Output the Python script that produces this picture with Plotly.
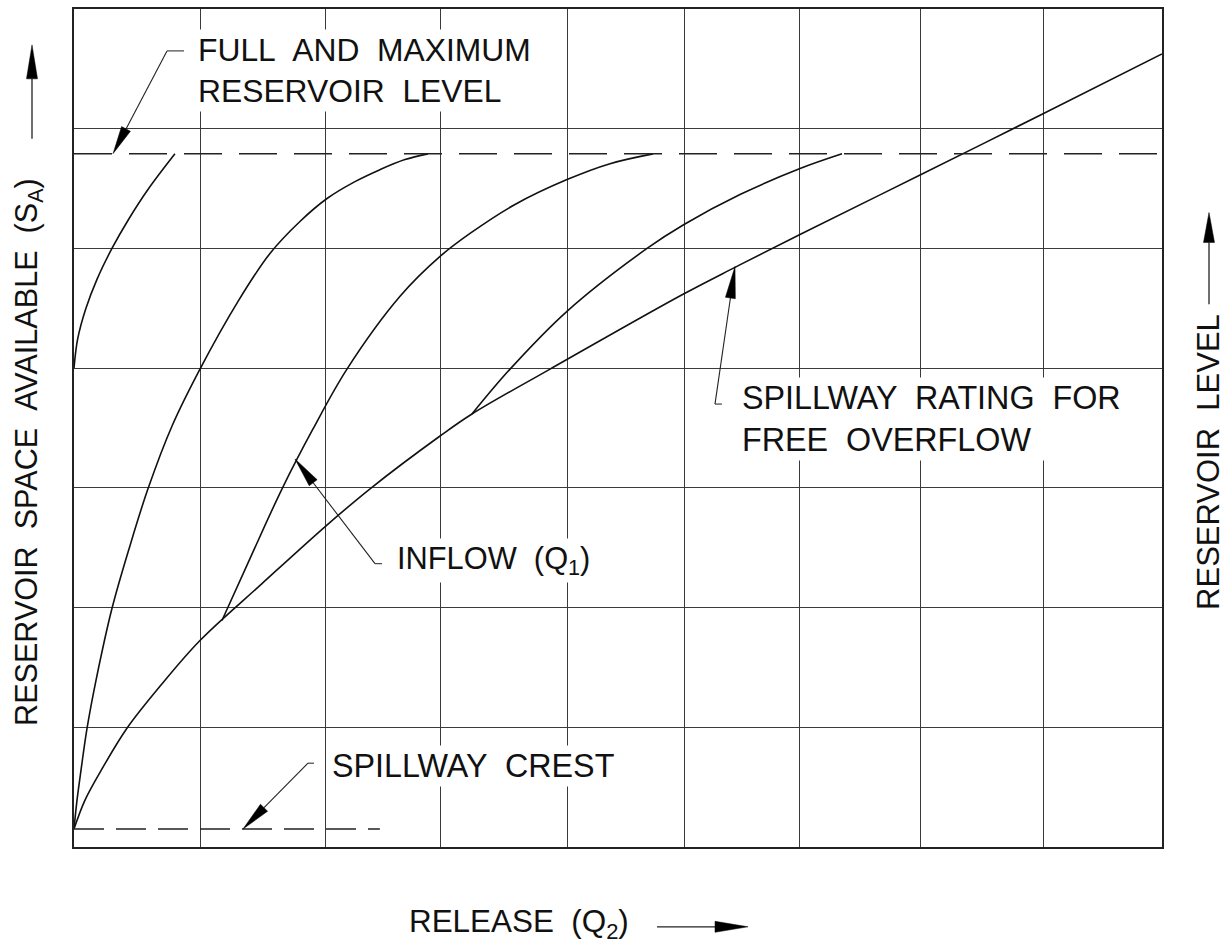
import math
import plotly.graph_objects as go

# ---------------- data ----------------
release_grid = [1.05, 2.08, 3.03, 4.08, 5.05, 6.0, 7.0, 8.02]
space_grid = [1, 2, 3, 4, 5, 6]

inflow1_x = [0.0, 0.030, 0.096, 0.190, 0.314, 0.451, 0.612, 0.835]
inflow1_y = [4.0, 4.242, 4.492, 4.742, 5.0, 5.242, 5.492, 5.79]

inflow2_x = [0.0, 0.025, 0.058, 0.108, 0.182, 0.314, 0.463, 0.612, 0.811,
             1.042, 1.357, 1.621, 1.869, 2.093, 2.324, 2.531, 2.738, 2.928]
inflow2_y = [0.15, 0.392, 0.642, 0.992, 1.392, 1.992, 2.517, 2.992, 3.517,
             3.992, 4.558, 4.958, 5.225, 5.417, 5.558, 5.658, 5.742, 5.79]

inflow3_x = [1.224, 1.448, 1.721, 1.977, 2.258, 2.697, 3.028, 3.276, 3.648, 4.078, 4.434, 4.790]
inflow3_y = [1.892, 2.392, 2.992, 3.492, 3.992, 4.6, 4.933, 5.125, 5.367, 5.575, 5.708, 5.79]

inflow4_x = [3.292, 3.607, 4.078, 4.740, 5.046, 5.509, 6.006, 6.353]
inflow4_y = [3.617, 3.992, 4.475, 5.0, 5.2, 5.45, 5.667, 5.79]

spill_x = [0.0, 0.091, 0.240, 0.438, 0.711, 1.042, 1.555, 2.085, 2.449, 3.028,
           3.292, 3.938, 5.038, 5.468, 6.022, 7.007, 8.016, 9.0]
spill_y = [0.15, 0.392, 0.667, 0.992, 1.342, 1.725, 2.2, 2.683, 2.992, 3.433,
           3.617, 3.992, 4.617, 4.842, 5.125, 5.617, 6.125, 6.625]

full_level_x = [0.0, 9.0]
full_level_y = [5.79, 5.79]
crest_x = [0.0, 2.53]
crest_y = [0.15, 0.15]

# ---------------- figure ----------------
FONT = "Liberation Sans, Arial, sans-serif"
INK = "#111111"
L, T, PW, PH = 74, 7, 1088, 840


def P(x, y):
    """pixel position -> paper coordinates"""
    return (x - L) / PW, (T + PH - y) / PH


fig = go.Figure()

curve_style = dict(color="#111111", width=1.6, shape="spline", smoothing=1.0)
for xs, ys in [(inflow1_x, inflow1_y), (inflow2_x, inflow2_y), (inflow3_x, inflow3_y),
               (inflow4_x, inflow4_y), (spill_x, spill_y)]:
    fig.add_trace(go.Scatter(x=xs, y=ys, mode="lines", line=curve_style,
                             hoverinfo="skip", showlegend=False))

dash_style = dict(color="#222222", width=1.5, dash="38px,17px")
fig.add_trace(go.Scatter(x=full_level_x, y=full_level_y, mode="lines",
                         line=dash_style, hoverinfo="skip", showlegend=False))
fig.add_trace(go.Scatter(x=crest_x, y=crest_y, mode="lines",
                         line=dict(color="#222222", width=1.5, dash="30px,12px"),
                         hoverinfo="skip", showlegend=False))

shapes = []


def seg(a, b, width=1.1, color="#333333"):
    x0, y0 = P(*a)
    x1, y1 = P(*b)
    shapes.append(dict(type="line", xref="paper", yref="paper", x0=x0, y0=y0,
                       x1=x1, y1=y1, line=dict(color=color, width=width)))


def arrow(tail, tip, hl=28, hw=10, width=1.1, color="#222222"):
    dx, dy = tip[0] - tail[0], tip[1] - tail[1]
    ln = math.hypot(dx, dy)
    ux, uy = dx / ln, dy / ln
    bx, by = tip[0] - ux * hl, tip[1] - uy * hl
    nx, ny = -uy, ux
    seg(tail, (bx, by), width, color)
    pts = [tip, (bx + nx * hw / 2, by + ny * hw / 2), (bx - nx * hw / 2, by - ny * hw / 2)]
    pp = [P(*p) for p in pts]
    path = "M {} {} L {} {} L {} {} Z".format(pp[0][0], pp[0][1], pp[1][0], pp[1][1],
                                             pp[2][0], pp[2][1])
    shapes.append(dict(type="path", xref="paper", yref="paper", path=path,
                       fillcolor="#000000", line=dict(color="#000000", width=0.5)))


# leaders
seg((167, 49), (184, 49))
arrow((167, 49), (113, 152), hl=28, hw=10)
seg((308, 763), (314, 763))
arrow((308, 763), (243, 829), hl=30, hw=10)
seg((375, 563), (382, 563))
arrow((375, 563), (295, 458), hl=30, hw=10)
seg((715, 403), (722, 403))
arrow((715, 403), (735, 265), hl=32, hw=10)

# axis-title arrows
arrow((32, 137), (32, 43), hl=34, hw=11, width=1.3)
arrow((1209, 303), (1209, 211), hl=30, hw=11, width=1.3)
arrow((657, 927), (748, 927), hl=33, hw=11, width=1.3)

annotations = []


def label(text, left, cy, size=31, angle=0, anchor="left", bg="white"):
    x, y = P(left, cy)
    annotations.append(dict(text=text, x=x, y=y, xref="paper", yref="paper",
                            xanchor=anchor, yanchor="middle", showarrow=False,
                            textangle=angle, align="left", bgcolor=bg, borderpad=2,
                            font=dict(family=FONT, size=size, color=INK)))


S = " \u00a0"
label("FULL" + S + "AND" + S + "MAXIMUM<br>RESERVOIR" + S + "LEVEL", 195, 69, size=31.8)
label("SPILLWAY" + S + "CREST", 329, 766, size=32.3)
label("INFLOW" + S + "(Q<sub>1</sub>)", 394, 560, size=30.8)
label("SPILLWAY" + S + "RATING" + S + "FOR<br>FREE" + S + "OVERFLOW", 739, 418, size=32.3)

label("RESERVOIR" + S + "SPACE" + S + "AVAILABLE" + S + "(S<sub>A</sub>)", 29, 451,
      size=30.6, angle=-90, anchor="center", bg="rgba(0,0,0,0)")
label("RESERVOIR" + S + "LEVEL", 1209, 461, size=31, angle=-90, anchor="center",
      bg="rgba(0,0,0,0)")
label("RELEASE" + S + "(Q<sub>2</sub>)", 519, 924, size=31.4, anchor="center",
      bg="rgba(0,0,0,0)")

fig.update_layout(
    width=1225, height=944, autosize=False,
    margin=dict(l=L, r=1225 - L - PW, t=T, b=944 - T - PH, pad=0),
    paper_bgcolor="white", plot_bgcolor="white",
    showlegend=False,
    shapes=shapes, annotations=annotations,
    xaxis=dict(range=[0, 9], tickvals=release_grid, showticklabels=False, ticks="",
               showgrid=True, gridcolor="#3a3a3a", gridwidth=1.2, zeroline=False,
               showline=True, mirror=True, linecolor="#222222", linewidth=1.6,
               fixedrange=True),
    yaxis=dict(range=[0, 7], tickvals=space_grid, showticklabels=False, ticks="",
               showgrid=True, gridcolor="#3a3a3a", gridwidth=1.2, zeroline=False,
               showline=True, mirror=True, linecolor="#222222", linewidth=1.6,
               fixedrange=True),
)

# remove the browser's default page margin so the 1225x944 figure fills the window
fig.write_html("out.html",
               config={"displayModeBar": False},
               post_script="document.body.style.margin='0px';"
                           "document.body.style.overflow='hidden';")
